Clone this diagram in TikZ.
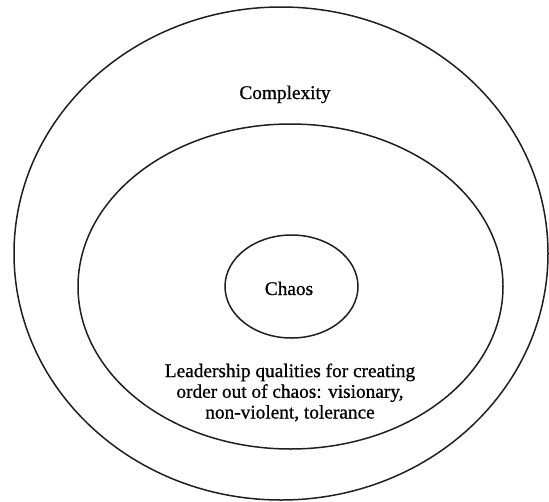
\documentclass[tikz,border=0pt]{standalone}
\usepackage{fontspec}
\setmainfont{Liberation Serif}[FakeBold=0.8]
\usetikzlibrary{shapes.geometric}
\begin{document}
\begin{tikzpicture}[x=1pt,y=-1pt,
  ring/.style={draw=black!88, line width=1.5pt, ellipse, inner sep=0pt},
  lbl/.style={font=\fontsize{19.3}{20.7}\selectfont, inner sep=0pt, anchor=base, align=center}]
\useasboundingbox (0,0) rectangle (549,501);
% three nested ellipses
\node[ring, minimum width=534pt, minimum height=493pt] (outer) at (281,253.5) {};
\node[ring, minimum width=425pt, minimum height=325pt] (middle) at (290.5,286.5) {};
\node[ring, minimum width=133pt, minimum height=103pt] (inner) at (291.5,286.5) {};
% labels (a multi-line node's base is its last line)
\node[lbl] (complexity) at (285,99) {Complexity};
\node[lbl] (chaos) at (289,295) {Chaos};
\node[lbl] (qualities) at (290,418.5) {Leadership qualities for creating\\order out of chaos: visionary,\\non-violent, tolerance};
\end{tikzpicture}
\end{document}
